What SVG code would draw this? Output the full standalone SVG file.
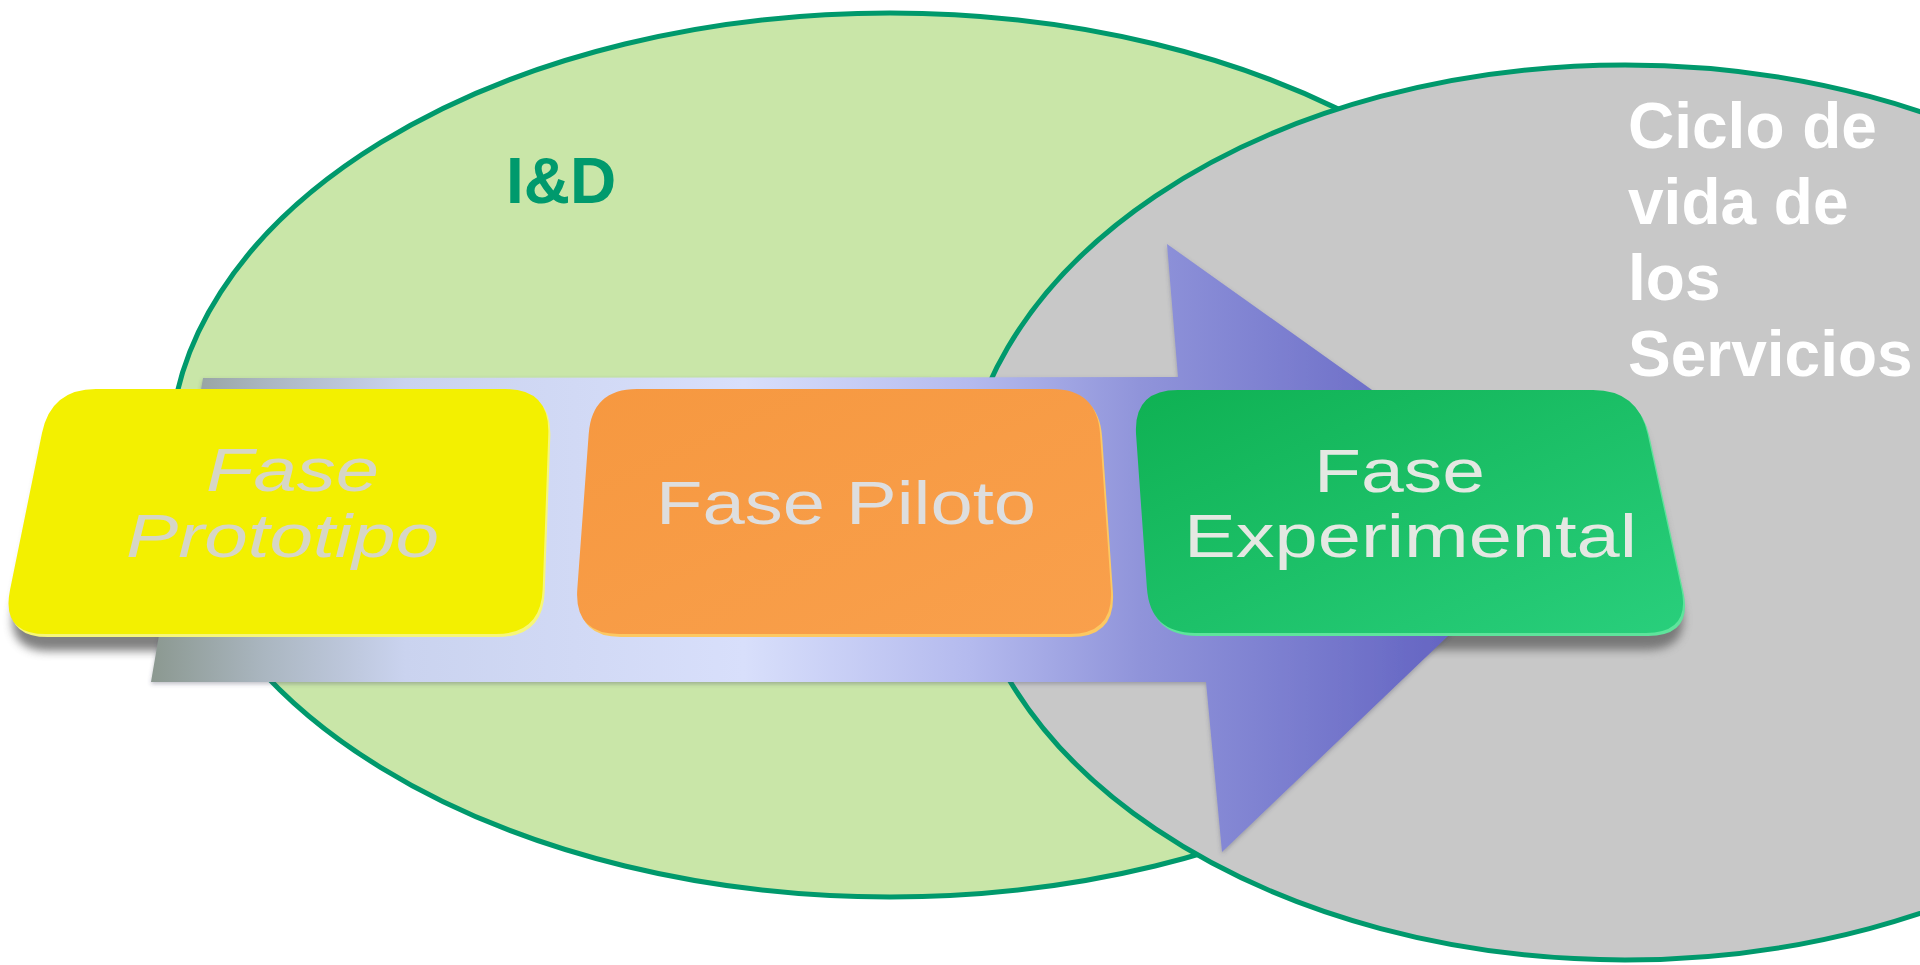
<svg xmlns="http://www.w3.org/2000/svg" width="1920" height="965" viewBox="0 0 1920 965">
  <style>
    .region { stroke: #00996c; stroke-width: 5; }
    .rd { fill: #c9e6a8; }
    .life { fill: #c8c8c8; }
    .title-rd { font-family: "Liberation Sans", Arial, sans-serif; font-weight: bold; font-size: 64px; fill: #009a6d; }
    .title-life { font-family: "Liberation Sans", Arial, sans-serif; font-weight: bold; font-size: 64px; fill: #ffffff; }
    .phase { font-family: "Liberation Sans", Arial, sans-serif; font-size: 62px; }
  </style>
  <defs>
    <linearGradient id="flowGrad" gradientUnits="userSpaceOnUse" x1="151" y1="0" x2="1563" y2="0">
      <stop offset="0" stop-color="#8b9890"/>
      <stop offset="0.08" stop-color="#aab6c0"/>
      <stop offset="0.18" stop-color="#cad3ef"/>
      <stop offset="0.42" stop-color="#d8dffb"/>
      <stop offset="0.58" stop-color="#b4baee"/>
      <stop offset="0.7" stop-color="#9094da"/>
      <stop offset="0.8" stop-color="#7c7fd0"/>
      <stop offset="0.92" stop-color="#6464c2"/>
      <stop offset="1" stop-color="#5656bb"/>
    </linearGradient>
    <linearGradient id="greenFace" x1="0" y1="0" x2="1" y2="1">
      <stop offset="0" stop-color="#0fb153"/>
      <stop offset="1" stop-color="#29cf7c"/>
    </linearGradient>
    <linearGradient id="orangeFace" x1="0" y1="0" x2="1" y2="1">
      <stop offset="0" stop-color="#f69840"/>
      <stop offset="1" stop-color="#f9a04c"/>
    </linearGradient>
    <filter id="soft" x="-10%" y="-20%" width="120%" height="140%">
      <feGaussianBlur stdDeviation="5"/>
    </filter>
    <filter id="edge" x="-5%" y="-5%" width="110%" height="110%">
      <feDropShadow dx="0" dy="2" stdDeviation="2" flood-color="#404060" flood-opacity="0.35"/>
    </filter>
    <path id="boxProto" d="M 98,392 L 507,392 Q 552,392 550.3,437 L 544.7,592 Q 543,637 498,637 L 48,637 Q 3,637 12,592.9 L 44,436.1 Q 53,392 98,392 Z"/>
    <path id="boxPilot" d="M 639,392 L 1054,392 Q 1099,392 1102.1,436.9 L 1112.9,592.1 Q 1116,637 1071,637 L 621,637 Q 576,637 579.3,592.1 L 590.7,436.9 Q 594,392 639,392 Z"/>
    <path id="boxExp" d="M 1180,393 L 1595,393 Q 1640,393 1649.6,437 L 1683.4,592 Q 1693,636 1648,636 L 1197,636 Q 1152,636 1148.9,591.1 L 1138.1,437.9 Q 1135,393 1180,393 Z"/>
  </defs>

  <rect width="1920" height="965" fill="#ffffff"/>

  <!-- research & development region -->
  <g id="region-id">
    <ellipse class="region rd" cx="890" cy="455" rx="720" ry="442"/>
    <text class="title-rd" x="506" y="203">I&amp;D</text>
  </g>

  <!-- service life-cycle region -->
  <g id="region-ciclo">
    <ellipse class="region life" cx="1625" cy="512.5" rx="664" ry="447.5"/>
    <text class="title-life" x="1628" y="148">Ciclo de</text>
    <text class="title-life" x="1628" y="224">vida de</text>
    <text class="title-life" x="1628" y="300">los</text>
    <text class="title-life" x="1628" y="376">Servicios</text>
  </g>

  <!-- cast shadows of the phase boxes -->
  <g id="box-shadows" fill="#6b6b6b" opacity="0.85" filter="url(#soft)">
    <use href="#boxProto" transform="translate(2,14)"/>
    <use href="#boxPilot" transform="translate(0,14)"/>
    <use href="#boxExp" transform="translate(-2,14)"/>
  </g>

  <!-- process flow arrow -->
  <g id="connectors">
    <path id="flow-arrow" d="M 203,378 L 1178,377 L 1167,244 L 1563,526 L 1222,852 L 1206,682 L 151,682 Z" fill="url(#flowGrad)" filter="url(#edge)"/>
  </g>

  <!-- phase boxes -->
  <g id="fase-prototipo">
    <use href="#boxProto" fill="#f6f67a"/>
    <use href="#boxProto" fill="#f3f000" transform="translate(-2,-3)"/>
    <text class="phase" font-style="italic" fill="#d6d6c6" x="206" y="491" textLength="173" lengthAdjust="spacingAndGlyphs">Fase</text>
    <text class="phase" font-style="italic" fill="#d6d6c6" x="126" y="557" textLength="313" lengthAdjust="spacingAndGlyphs">Prototipo</text>
  </g>

  <g id="fase-piloto">
    <use href="#boxPilot" fill="#fcc862"/>
    <use href="#boxPilot" fill="url(#orangeFace)" transform="translate(-2,-3)"/>
    <text class="phase" fill="#dedede" x="656" y="524" textLength="380" lengthAdjust="spacingAndGlyphs">Fase Piloto</text>
  </g>

  <g id="fase-experimental">
    <use href="#boxExp" fill="#5fe49c"/>
    <use href="#boxExp" fill="url(#greenFace)" transform="translate(-2,-3)"/>
    <text class="phase" fill="#e4e8e2" x="1314" y="492" textLength="171" lengthAdjust="spacingAndGlyphs">Fase</text>
    <text class="phase" fill="#e4e8e2" x="1184" y="557" textLength="453" lengthAdjust="spacingAndGlyphs">Experimental</text>
  </g>
</svg>
